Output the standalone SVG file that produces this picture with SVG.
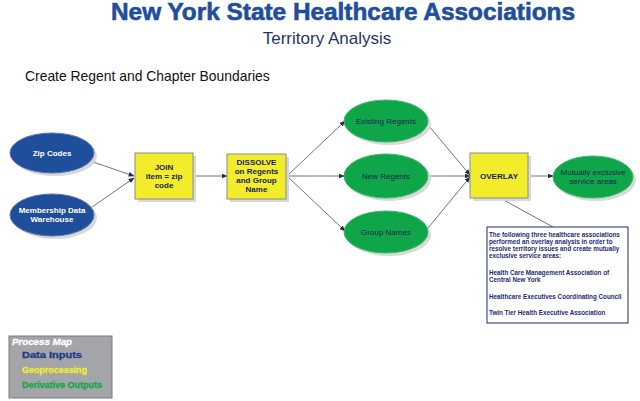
<svg xmlns="http://www.w3.org/2000/svg" width="640" height="401" viewBox="0 0 640 401">
<defs>
<marker id="arr" viewBox="0 0 10 10" refX="9" refY="5" markerWidth="6" markerHeight="6" orient="auto" markerUnits="userSpaceOnUse">
<path d="M0,1 L10,5 L0,9 Z" fill="#1f2a4a"/>
</marker>
<style>
.t{font-family:"Liberation Sans",Arial,sans-serif}
.in{fill:#1f4e9a;stroke:#5a76b0;stroke-width:1}
.gp{fill:#f2ec2a;stroke:#8c8c8c;stroke-width:1}
.out{fill:#0fa64a;stroke:#3cb86a;stroke-width:1}
.sh{fill:#d9d9d9}
.lw{font-family:"Liberation Sans",Arial,sans-serif;font-weight:bold;font-size:8px;fill:#ffffff;text-anchor:middle}
.ld{font-family:"Liberation Sans",Arial,sans-serif;font-weight:bold;font-size:8px;fill:#1a2550;text-anchor:middle}
.lg{font-family:"Liberation Sans",Arial,sans-serif;font-weight:normal;font-size:8px;fill:#1a2550;text-anchor:middle}
.ln{fill:none;stroke:#5d6478;stroke-width:0.9;marker-end:url(#arr)}
.nt{font-family:"Liberation Sans",Arial,sans-serif;font-weight:bold;font-size:6.3px;fill:#1a2a7a}
.lt{font-family:"Liberation Sans",Arial,sans-serif;font-weight:bold;font-size:8.5px;stroke-width:0.3}
</style>
</defs>
<rect width="640" height="401" fill="#ffffff"/>
<text class="t" x="343" y="20" font-size="23.5" font-weight="bold" fill="#1f4e9c" stroke="#1f4e9c" stroke-width="0.6" text-anchor="middle" textLength="464" lengthAdjust="spacingAndGlyphs">New York State Healthcare Associations</text>
<text class="t" x="327" y="44" font-size="17" fill="#1f3566" text-anchor="middle">Territory Analysis</text>
<text class="t" x="25" y="81" font-size="13.9" fill="#111111">Create Regent and Chapter Boundaries</text>

<g id="connectors">
<line class="ln" x1="93" y1="162" x2="134" y2="176"/>
<line class="ln" x1="92" y1="207" x2="134" y2="178"/>
<line class="ln" x1="193" y1="176" x2="227" y2="176"/>
<line class="ln" x1="287" y1="176" x2="345" y2="121"/>
<line class="ln" x1="287" y1="176" x2="344" y2="176"/>
<line class="ln" x1="287" y1="176" x2="345" y2="231"/>
<line class="ln" x1="428" y1="125" x2="470" y2="175"/>
<line class="ln" x1="428" y1="176" x2="470" y2="176"/>
<line class="ln" x1="428" y1="228" x2="470" y2="177"/>
<line class="ln" x1="528" y1="176" x2="553" y2="176"/>
<line x1="500" y1="198" x2="553" y2="227" stroke="#5d6478" stroke-width="0.9"/>
</g>

<g id="zip-codes">
<ellipse class="sh" cx="55" cy="156" rx="42" ry="20"/>
<ellipse class="in" cx="52" cy="153" rx="42" ry="20"/>
<text class="lw" x="52" y="156">Zip Codes</text>
</g>
<g id="membership">
<ellipse class="sh" cx="55" cy="218" rx="42" ry="21"/>
<ellipse class="in" cx="52" cy="215" rx="42" ry="21"/>
<text class="lw" x="52" y="213">Membership Data</text>
<text class="lw" x="52" y="222">Warehouse</text>
</g>
<g id="join">
<rect class="sh" x="138" y="156" width="58" height="46"/>
<rect class="gp" x="135" y="153" width="58" height="46"/>
<text class="ld" x="164" y="170">JOIN</text>
<text class="ld" x="164" y="179">item = zip</text>
<text class="ld" x="164" y="188">code</text>
</g>
<g id="dissolve">
<rect class="sh" x="230" y="157" width="59" height="45"/>
<rect class="gp" x="227" y="154" width="59" height="45"/>
<text class="ld" x="256.5" y="165">DISSOLVE</text>
<text class="ld" x="256.5" y="174">on Regents</text>
<text class="ld" x="256.5" y="183">and Group</text>
<text class="ld" x="256.5" y="192">Name</text>
</g>
<g id="existing-regents">
<ellipse class="sh" cx="389" cy="124" rx="42" ry="21"/>
<ellipse class="out" cx="386" cy="121" rx="42" ry="21"/>
<text class="lg" x="386" y="124">Existing Regents</text>
</g>
<g id="new-regents">
<ellipse class="sh" cx="389" cy="179" rx="42" ry="22"/>
<ellipse class="out" cx="386" cy="176" rx="42" ry="22"/>
<text class="lg" x="386" y="179">New Regents</text>
</g>
<g id="group-names">
<ellipse class="sh" cx="389" cy="235" rx="42" ry="21"/>
<ellipse class="out" cx="386" cy="232" rx="42" ry="21"/>
<text class="lg" x="386" y="235">Group Names</text>
</g>
<g id="overlay">
<rect class="sh" x="473" y="156" width="58" height="45"/>
<rect class="gp" x="470" y="153" width="58" height="45"/>
<text class="ld" x="499" y="179" font-size="8.5">OVERLAY</text>
</g>
<g id="mutually-exclusive">
<ellipse class="sh" cx="596" cy="180" rx="40" ry="21"/>
<ellipse class="out" cx="593" cy="177" rx="40" ry="21"/>
<text class="lg" x="593" y="175">Mutually exclusive</text>
<text class="lg" x="593" y="184">service areas</text>
</g>
<g id="note">
<rect x="487" y="227" width="141" height="96" fill="#ffffff" stroke="#1a2a7a" stroke-width="1"/>
<text class="nt" x="489" y="237">The following three healthcare associations</text>
<text class="nt" x="489" y="244">performed an overlay analysis in order to</text>
<text class="nt" x="489" y="251">resolve territory issues and create mutually</text>
<text class="nt" x="489" y="258">exclusive service areas:</text>
<text class="nt" x="489" y="275">Health Care Management Association of</text>
<text class="nt" x="489" y="282">Central New York</text>
<text class="nt" x="489" y="299">Healthcare Executives Coordinating Council</text>
<text class="nt" x="489" y="315">Twin Tier Health Executive Association</text>
</g>
<g id="legend">
<rect x="9" y="336" width="103" height="62" fill="#a3a5a8" stroke="#7a7c80" stroke-width="1"/>
<text class="lt" x="12" y="345" font-size="9" font-style="italic" fill="#ffffff" stroke="#ffffff" textLength="60" lengthAdjust="spacingAndGlyphs">Process Map</text>
<text class="lt" x="22" y="358" fill="#1f3a8a" stroke="#1f3a8a" textLength="60" lengthAdjust="spacingAndGlyphs">Data Inputs</text>
<text class="lt" x="22" y="373" fill="#f0ec30" stroke="#f0ec30" textLength="65" lengthAdjust="spacingAndGlyphs">Geoprocessing</text>
<text class="lt" x="22" y="388" fill="#12a84a" stroke="#12a84a" textLength="80" lengthAdjust="spacingAndGlyphs">Derivative Outputs</text>
</g>
</svg>
